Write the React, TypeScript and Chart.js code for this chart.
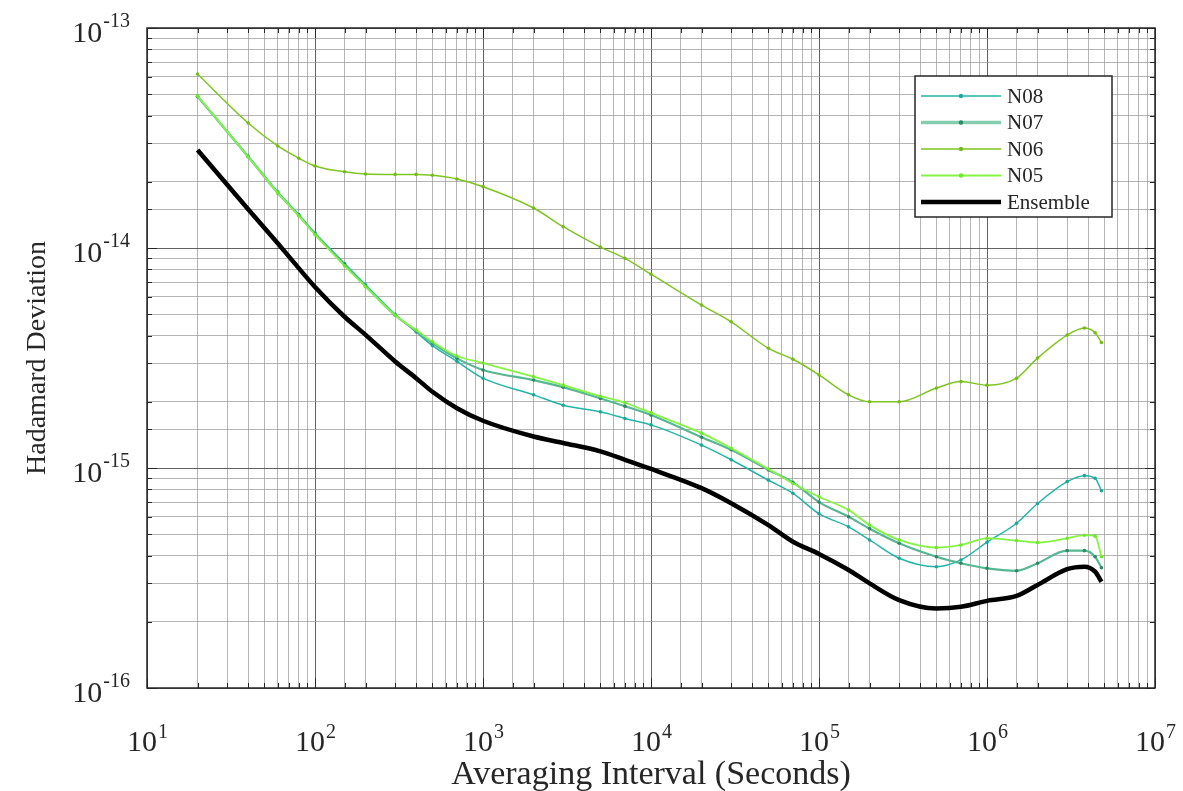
import React, { useEffect, useRef } from "react";
import { Chart, registerables } from "chart.js";

Chart.register(...registerables);

// Averaging interval tau (seconds)
const tau = [
  20, 40, 60, 80, 100, 150, 200, 300, 400, 500, 700, 1000, 2000, 3000, 5000, 7000,
  1e4, 2e4, 3e4, 5e4, 7e4, 1e5, 1.5e5, 2e5, 3e5, 5e5, 7e5, 1e6, 1.5e6, 2e6, 3e6, 3.8e6, 4.4e6, 4.8e6,
];

const n08 = [
  4.9e-14, 2.62e-14, 1.8e-14, 1.42e-14, 1.17e-14, 8.5e-15, 6.8e-15, 5.0e-15, 4.15e-15, 3.6e-15, 3.05e-15,
  2.56e-15, 2.15e-15, 1.93e-15, 1.8e-15, 1.68e-15, 1.57e-15, 1.27e-15, 1.09e-15, 8.8e-16, 7.67e-16,
  6.2e-16, 5.4e-16, 4.71e-16, 3.89e-16, 3.56e-16, 3.82e-16, 4.6e-16, 5.61e-16, 6.9e-16, 8.67e-16,
  9.23e-16, 8.98e-16, 7.88e-16,
];

const n07 = [
  4.88e-14, 2.6e-14, 1.78e-14, 1.41e-14, 1.16e-14, 8.4e-15, 6.7e-15, 4.95e-15, 4.2e-15, 3.7e-15, 3.15e-15,
  2.79e-15, 2.51e-15, 2.33e-15, 2.07e-15, 1.91e-15, 1.74e-15, 1.38e-15, 1.21e-15, 9.8e-16, 8.6e-16,
  7.0e-16, 6.0e-16, 5.3e-16, 4.55e-16, 3.95e-16, 3.69e-16, 3.5e-16, 3.41e-16, 3.69e-16, 4.21e-16,
  4.21e-16, 3.95e-16, 3.52e-16,
];

const n06 = [
  6.18e-14, 3.7e-14, 2.91e-14, 2.56e-14, 2.36e-14, 2.22e-14, 2.17e-14, 2.16e-14, 2.16e-14, 2.14e-14, 2.06e-14,
  1.9e-14, 1.52e-14, 1.25e-14, 1.01e-14, 8.97e-15, 7.6e-15, 5.5e-15, 4.62e-15, 3.5e-15, 3.12e-15,
  2.65e-15, 2.15e-15, 2.0e-15, 2.0e-15, 2.31e-15, 2.47e-15, 2.38e-15, 2.56e-15, 3.16e-15, 4.02e-15,
  4.33e-15, 4.12e-15, 3.72e-15,
];

const n05 = [
  4.91e-14, 2.6e-14, 1.78e-14, 1.4e-14, 1.15e-14, 8.3e-15, 6.67e-15, 4.95e-15, 4.24e-15, 3.75e-15, 3.23e-15,
  3.0e-15, 2.6e-15, 2.38e-15, 2.12e-15, 1.98e-15, 1.78e-15, 1.44e-15, 1.23e-15, 9.9e-16, 8.5e-16,
  7.4e-16, 6.44e-16, 5.5e-16, 4.71e-16, 4.35e-16, 4.47e-16, 4.79e-16, 4.68e-16, 4.58e-16, 4.79e-16,
  4.95e-16, 4.9e-16, 3.95e-16,
];

const ensemble = [
  2.79e-14, 1.5e-14, 1.05e-14, 8.1e-15, 6.65e-15, 4.87e-15, 4.03e-15, 3.05e-15, 2.56e-15, 2.22e-15, 1.87e-15,
  1.64e-15, 1.39e-15, 1.3e-15, 1.19e-15, 1.09e-15, 9.9e-16, 8.1e-16, 6.92e-16, 5.5e-16, 4.62e-16,
  4.07e-16, 3.44e-16, 2.99e-16, 2.51e-16, 2.3e-16, 2.34e-16, 2.49e-16, 2.62e-16, 2.94e-16, 3.47e-16,
  3.56e-16, 3.38e-16, 3.04e-16,
];

const seriesNames = ["N08", "N07", "N06", "N05", "Ensemble"];
const xTickExponents = [1, 2, 3, 4, 5, 6, 7];
const yTickExponents = [-13, -14, -15, -16];
const xTitle = "Averaging Interval (Seconds)";
const yTitle = "Hadamard Deviation";

const W = 1183;
const H = 791;
const SERIF = "'Liberation Serif', 'Times New Roman', serif";

const styles = [
  { line: "#22b5a6", point: "#1ea89a", width: 1.5, radius: 1.8 },
  { line: "#56b793", point: "#2b8a66", width: 2.2, radius: 1.8 },
  { line: "#7fc520", point: "#76bb1a", width: 1.5, radius: 1.8 },
  { line: "#84f542", point: "#6ee82a", width: 1.8, radius: 1.8 },
  { line: "#000000", point: "#000000", width: 4.5, radius: 0 },
];

function isMajor(v: number) {
  const l = Math.log10(v);
  return Math.abs(l - Math.round(l)) < 1e-6;
}

const decorPlugin = {
  id: "decor",
  afterDraw(chart: any) {
    const ctx = chart.ctx as CanvasRenderingContext2D;
    const a = chart.chartArea;
    const xs = chart.scales.x;
    const ys = chart.scales.y;
    ctx.save();

    // inward tick marks
    ctx.strokeStyle = "#262626";
    ctx.lineWidth = 1;
    xs.ticks.forEach((t: any) => {
      const px = Math.round(xs.getPixelForValue(t.value)) + 0.5;
      const len = isMajor(t.value) ? 10 : 5;
      ctx.beginPath();
      ctx.moveTo(px, a.bottom);
      ctx.lineTo(px, a.bottom - len);
      ctx.moveTo(px, a.top);
      ctx.lineTo(px, a.top + len);
      ctx.stroke();
    });
    ys.ticks.forEach((t: any) => {
      const py = Math.round(ys.getPixelForValue(t.value)) + 0.5;
      const len = isMajor(t.value) ? 10 : 5;
      ctx.beginPath();
      ctx.moveTo(a.left, py);
      ctx.lineTo(a.left + len, py);
      ctx.moveTo(a.right, py);
      ctx.lineTo(a.right - len, py);
      ctx.stroke();
    });

    // axes box
    ctx.lineWidth = 1.5;
    ctx.strokeStyle = "#262626";
    ctx.strokeRect(a.left, a.top, a.right - a.left, a.bottom - a.top);

    // tick labels with superscripts
    ctx.fillStyle = "#262626";
    ctx.textBaseline = "alphabetic";
    ctx.textAlign = "left";
    const baseFont = `30px ${SERIF}`;
    const expFont = `20px ${SERIF}`;
    xTickExponents.forEach((e) => {
      const px = xs.getPixelForValue(Math.pow(10, e));
      ctx.font = baseFont;
      const wb = ctx.measureText("10").width;
      ctx.font = expFont;
      const es = String(e);
      const we = ctx.measureText(es).width;
      const x0 = px - (wb + we) / 2;
      const base = a.bottom + 63;
      ctx.font = baseFont;
      ctx.fillText("10", x0, base);
      ctx.font = expFont;
      ctx.fillText(es, x0 + wb + 1, base - 13);
    });
    yTickExponents.forEach((e) => {
      const py = ys.getPixelForValue(Math.pow(10, e));
      ctx.font = baseFont;
      const wb = ctx.measureText("10").width;
      ctx.font = expFont;
      const es = String(e);
      const we = ctx.measureText(es).width;
      const right = a.left - 17;
      const x0 = right - we - wb - 1;
      ctx.font = baseFont;
      ctx.fillText("10", x0, py + 14);
      ctx.font = expFont;
      ctx.fillText(es, x0 + wb + 1, py - 1);
    });

    // axis titles
    ctx.font = `34px ${SERIF}`;
    ctx.textAlign = "center";
    ctx.textBaseline = "middle";
    ctx.fillText(xTitle, (a.left + a.right) / 2, 775);
    ctx.save();
    ctx.translate(38, (a.top + a.bottom) / 2);
    ctx.rotate(-Math.PI / 2);
    ctx.font = `28px ${SERIF}`;
    ctx.fillText(yTitle, 0, 0);
    ctx.restore();

    // legend
    const bw = 197;
    const bh = 141;
    const bx = a.right - 43 - bw;
    const by = a.top + 48;
    ctx.fillStyle = "#ffffff";
    ctx.fillRect(bx, by, bw, bh);
    ctx.lineWidth = 1.5;
    ctx.strokeStyle = "#262626";
    ctx.strokeRect(bx, by, bw, bh);
    ctx.font = `21px ${SERIF}`;
    ctx.textAlign = "left";
    ctx.textBaseline = "middle";
    seriesNames.forEach((name, i) => {
      const yy = by + 20 + i * 26.5;
      const st = styles[i];
      const x1 = bx + 6;
      const x2 = bx + 86;
      ctx.strokeStyle = i === 1 ? "#86cdb0" : st.line;
      ctx.lineWidth = i === 1 ? 3.5 : st.width;
      ctx.beginPath();
      ctx.moveTo(x1, yy);
      ctx.lineTo(x2, yy);
      ctx.stroke();
      if (st.radius > 0) {
        ctx.fillStyle = st.point;
        ctx.beginPath();
        ctx.arc((x1 + x2) / 2, yy, 2.2, 0, Math.PI * 2);
        ctx.fill();
      }
      ctx.fillStyle = "#262626";
      ctx.fillText(name, bx + 92, yy + 1);
    });

    ctx.restore();
  },
};

export default function App() {
  const ref = useRef<HTMLCanvasElement | null>(null);

  useEffect(() => {
    if (!ref.current) return;
    const all = [n08, n07, n06, n05, ensemble];
    const datasets = all.map((vals, i) => ({
      label: seriesNames[i],
      data: tau.map((t, k) => ({ x: t, y: vals[k] })),
      borderColor: styles[i].line,
      backgroundColor: styles[i].point,
      borderWidth: styles[i].width,
      pointRadius: styles[i].radius,
      pointBackgroundColor: styles[i].point,
      pointBorderWidth: 0,
      pointHoverRadius: 0,
      cubicInterpolationMode: "monotone" as const,
      fill: false,
      order: 4 - i,
    }));

    const gridColor = (c: any) =>
      c.tick && isMajor(c.tick.value) ? "rgba(70,70,70,0.85)" : "rgba(150,150,150,0.7)";

    const chart = new Chart(ref.current, {
      type: "line",
      data: { datasets },
      options: {
        responsive: false,
        animation: false,
        layout: { padding: { top: 28, right: 28, left: 0, bottom: 0 } },
        plugins: { legend: { display: false }, tooltip: { enabled: false } },
        scales: {
          x: {
            type: "logarithmic",
            min: 10,
            max: 1e7,
            afterFit: (s: any) => {
              s.height = 103;
            },
            ticks: { display: false },
            grid: { color: gridColor, lineWidth: 1, drawTicks: false },
            border: { display: false },
          },
          y: {
            type: "logarithmic",
            min: 1e-16,
            max: 1e-13,
            afterFit: (s: any) => {
              s.width = 147;
            },
            ticks: { display: false },
            grid: { color: gridColor, lineWidth: 1, drawTicks: false },
            border: { display: false },
          },
        },
      },
      plugins: [decorPlugin],
    });
    return () => chart.destroy();
  }, []);

  return (
    <div style={{ position: "absolute", left: 0, top: 0, width: W, height: H, background: "#fff" }}>
      <canvas ref={ref} width={W} height={H} style={{ display: "block" }} />
    </div>
  );
}
